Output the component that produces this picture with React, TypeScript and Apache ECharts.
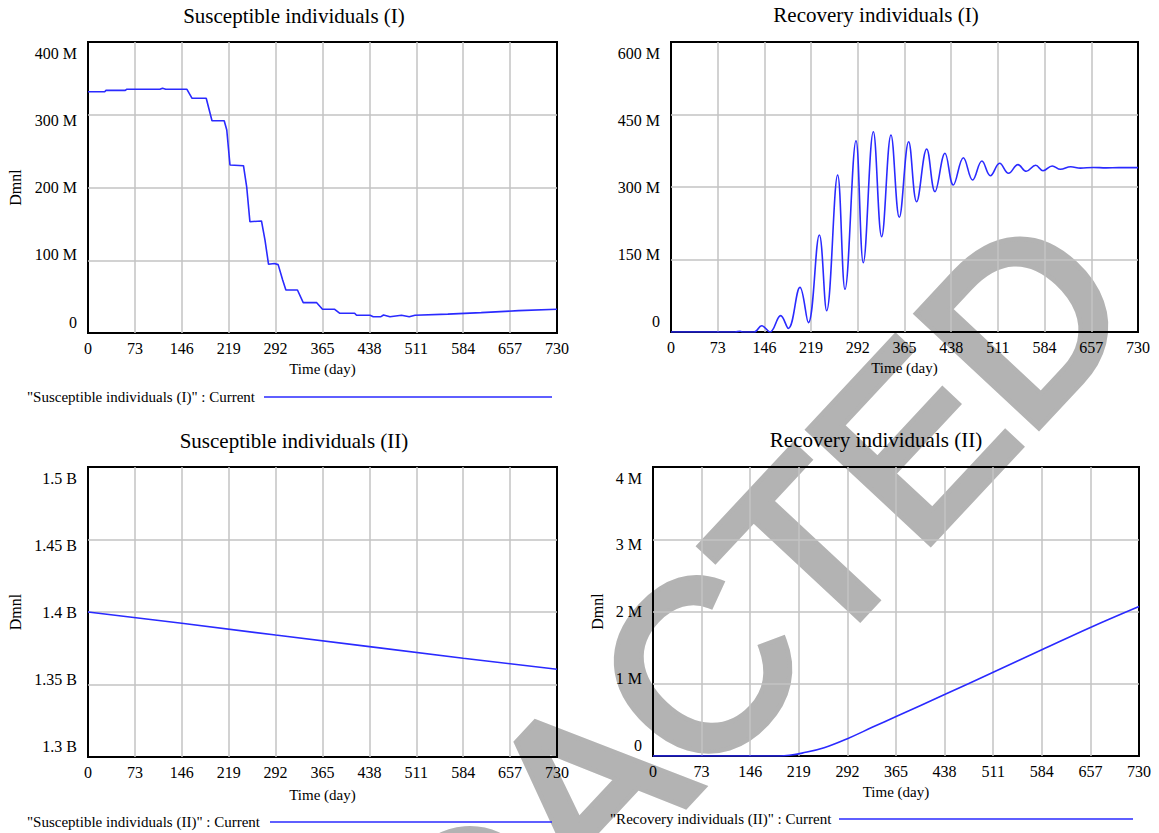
import React, { useEffect, useRef } from "react";
import * as echarts from "echarts";

// ---------- data ----------
const chartTitles = [
  "Susceptible individuals (I)",
  "Recovery individuals (I)",
  "Susceptible individuals (II)",
  "Recovery individuals (II)",
];
const legendLabels = [
  '"Susceptible individuals (I)" : Current',
  '"Susceptible individuals (II)" : Current',
  '"Recovery individuals (II)" : Current',
];
const xAxisName = "Time (day)";
const yAxisName = "Dmnl";

// Susceptible individuals (I) — millions
const susIDays = [0, 26, 28, 58, 60, 112, 116, 121, 154, 162, 184, 193, 212, 216, 221, 242, 247, 252, 270, 275.5, 281, 290, 296, 303, 308, 326, 335, 356, 365, 384, 392, 415, 418, 439, 444, 456, 460, 470, 488, 500, 509, 560, 612, 670, 730];
const susIValues = [331.7, 331.7, 333.5, 333.5, 335, 335, 336.5, 335, 335, 322.6, 322.6, 291.8, 291.8, 279, 230.9, 230, 201, 153, 154, 127.8, 94.4, 95.5, 94, 72.9, 59.1, 59.1, 41.7, 41.7, 32.6, 32.6, 27.1, 27.1, 24.3, 24.3, 22.4, 22.4, 24.7, 22.4, 24.5, 22.4, 24.4, 26, 28, 30.7, 32.6];

// Recovery individuals (I) — millions
const recIDays = [0, 100, 108, 113, 130, 141.7, 154.7, 171.4, 183.4, 201.6, 214.7, 231.9, 243.3, 260.5, 272, 289.2, 300.6, 316.3, 329.3, 343.9, 356.9, 371.5, 384, 399.7, 412.7, 428.3, 441.3, 457, 471.5, 486, 499.3, 513.7, 527.6, 542.4, 555.4, 570, 581.5, 595.9, 608.7, 624.8, 640, 660, 680, 700, 730];
const recIValues = [0, 0, 1.5, 0, 0, 13, 0, 33.8, 7.6, 92.4, 19.3, 200.7, 44, 324.8, 88.3, 395.8, 143.4, 414.4, 197.2, 407.6, 237.3, 393.7, 269.6, 378.6, 290.3, 369.7, 304.1, 360.6, 314.5, 353.8, 323.4, 349, 328.3, 346.2, 332.5, 344.9, 333.7, 343.5, 336.6, 342, 339, 340.5, 339.5, 340, 340];

// Susceptible individuals (II) — billions
const susIIDays = [0, 146, 292, 438, 584, 730];
const susIIValues = [1.4, 1.3922, 1.3841, 1.3761, 1.3681, 1.3605];

// Recovery individuals (II) — millions
const recIIDays = [0, 190, 205, 224, 257, 292, 330, 366, 438, 511, 584, 657, 730];
const recIIValues = [0, 0, 0.01, 0.04, 0.115, 0.24, 0.4, 0.55, 0.85, 1.16, 1.47, 1.78, 2.07];

const watermarkText = "REDACTED";

// ---------- styling ----------
const SERIF = '"Liberation Serif", "Times New Roman", Times, serif';
const LINE_COLOR = "#2a2aff";
const GRID_COLOR = "#c3c3c3";

const pairs = (xs: number[], ys: number[]) => xs.map((x, i) => [x, ys[i]]);

const grids = [
  { left: 88, top: 42, width: 469, height: 291 },
  { left: 671, top: 42, width: 467, height: 290 },
  { left: 88, top: 467, width: 469, height: 290 },
  { left: 653, top: 467, width: 486, height: 289 },
];

const yRanges = [
  { min: 0, max: 400, interval: 100, unit: "M" },
  { min: 0, max: 600, interval: 150, unit: "M" },
  { min: 1.3, max: 1.5, interval: 0.05, unit: "B" },
  { min: 0, max: 4, interval: 1, unit: "M" },
];

const labelFont = { fontFamily: SERIF, fontSize: 16, color: "#000" };
const richShift = {
  r0: { ...labelFont, padding: [0, 0, 22, 0] },
  r1: { ...labelFont, padding: [0, 0, 11, 0] },
  r2: { ...labelFont },
  r3: { ...labelFont, padding: [11, 0, 0, 0] },
  r4: { ...labelFont, padding: [22, 0, 0, 0] },
};

function makeYAxis(i: number, nameGap: number | null) {
  const r = yRanges[i];
  return {
    type: "value",
    gridIndex: i,
    min: r.min,
    max: r.max,
    interval: r.interval,
    name: nameGap === null ? "" : yAxisName,
    nameLocation: "middle",
    nameRotate: 90,
    nameGap: nameGap === null ? 0 : nameGap,
    nameTextStyle: { fontFamily: SERIF, fontSize: 16, color: "#000" },
    axisLine: { show: false },
    axisTick: { show: false },
    splitLine: {
      show: true,
      showMinLine: false,
      showMaxLine: false,
      lineStyle: { color: GRID_COLOR, width: 1.5 },
    },
    axisLabel: {
      margin: 11,
      ...labelFont,
      rich: richShift,
      formatter: (v: number) => {
        const idx = Math.round((v - r.min) / r.interval);
        const num = Number(v.toFixed(2));
        const txt = num === 0 ? "0" : `${num} ${r.unit}`;
        return `{r${idx}|${txt}}`;
      },
    },
  };
}

function makeXAxis(i: number, nameGap: number) {
  return {
    type: "value",
    gridIndex: i,
    min: 0,
    max: 730,
    interval: 73,
    name: xAxisName,
    nameLocation: "middle",
    nameGap,
    nameTextStyle: { fontFamily: SERIF, fontSize: 15, color: "#000" },
    axisLine: { show: false },
    axisTick: { show: false },
    splitLine: {
      show: true,
      showMinLine: false,
      showMaxLine: false,
      lineStyle: { color: GRID_COLOR, width: 1.5 },
    },
    axisLabel: { margin: 7, ...labelFont },
  };
}

function makeSeries(i: number, name: string, data: number[][], smooth: number | boolean) {
  return {
    type: "line",
    name,
    xAxisIndex: i,
    yAxisIndex: i,
    data,
    smooth,
    showSymbol: false,
    symbol: "none",
    silent: true,
    lineStyle: { color: LINE_COLOR, width: 1.6 },
    itemStyle: { color: LINE_COLOR },
    z: 3,
  };
}

const titleCenters = [
  [294, 5],
  [876, 4],
  [294, 430],
  [876, 429],
];

const legendDefs = [
  { textX: 27, y: 397, x1: 264, x2: 552 },
  { textX: 27, y: 822, x1: 270, x2: 552 },
  { textX: 610, y: 819, x1: 839, x2: 1133 },
];

function buildOption() {
  const graphic: any[] = [
    {
      type: "text",
      x: 636,
      y: 736,
      rotation: (47 * Math.PI) / 180,
      z: -100,
      silent: true,
      style: {
        text: watermarkText,
        font: '238px "Liberation Sans", Arial, sans-serif',
        fill: "#b3b3b3",
        stroke: "#b3b3b3",
        lineWidth: 9,
        lineJoin: "miter",
        textAlign: "center",
        textVerticalAlign: "middle",
      },
    },
  ];
  legendDefs.forEach((l, i) => {
    graphic.push({
      type: "text",
      x: l.textX,
      y: l.y,
      silent: true,
      style: {
        text: legendLabels[i],
        font: `15px ${SERIF}`,
        fill: "#000",
        textAlign: "left",
        textVerticalAlign: "middle",
      },
    });
    graphic.push({
      type: "line",
      silent: true,
      shape: { x1: l.x1, y1: l.y, x2: l.x2, y2: l.y },
      style: { stroke: LINE_COLOR, lineWidth: 1.5 },
    });
  });

  return {
    animation: false,
    backgroundColor: "#ffffff",
    title: chartTitles.map((t, i) => ({
      text: t,
      left: titleCenters[i][0],
      top: titleCenters[i][1],
      textAlign: "center",
      padding: 0,
      textStyle: { fontFamily: SERIF, fontSize: 21, fontWeight: "normal", color: "#000" },
    })),
    grid: grids.map((g) => ({
      ...g,
      show: true,
      borderColor: "#000",
      borderWidth: 2,
      backgroundColor: "transparent",
      containLabel: false,
    })),
    xAxis: [makeXAxis(0, 28.5), makeXAxis(1, 28.5), makeXAxis(2, 30.5), makeXAxis(3, 28.5)],
    yAxis: [makeYAxis(0, 65), makeYAxis(1, null), makeYAxis(2, 65), makeYAxis(3, 48)],
    series: [
      makeSeries(0, chartTitles[0], pairs(susIDays, susIValues), false),
      makeSeries(1, chartTitles[1], pairs(recIDays, recIValues), 0.4),
      makeSeries(2, chartTitles[2], pairs(susIIDays, susIIValues), false),
      makeSeries(3, chartTitles[3], pairs(recIIDays, recIIValues), 0.4),
    ],
    graphic,
  };
}

export default function App() {
  const ref = useRef<HTMLDivElement>(null);
  useEffect(() => {
    if (!ref.current) return;
    const chart = echarts.init(ref.current, null, { renderer: "svg" });
    chart.setOption(buildOption() as any);
    return () => chart.dispose();
  }, []);
  return (
    <div
      ref={ref}
      style={{ position: "fixed", left: 0, top: 0, width: 1159, height: 833, background: "#fff" }}
    />
  );
}
